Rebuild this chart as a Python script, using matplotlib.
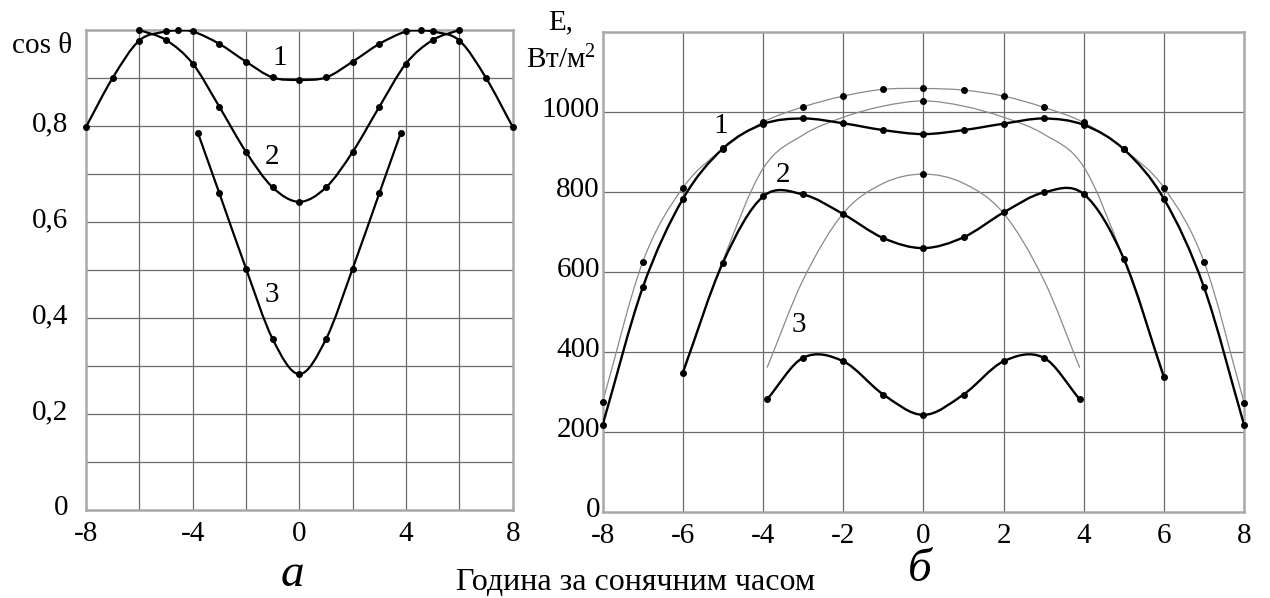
import matplotlib
matplotlib.use('Agg')
import matplotlib.pyplot as plt
import matplotlib.transforms as mtransforms
from matplotlib.path import Path
from matplotlib.patches import PathPatch
import numpy as np

plt.rcParams['font.family'] = ['Liberation Serif', 'DejaVu Serif']
plt.rcParams['mathtext.fontset'] = 'custom'
plt.rcParams['mathtext.rm'] = 'Liberation Serif'
plt.rcParams['mathtext.it'] = 'Liberation Serif:italic'

# --- panel a: cos(theta) vs solar hour ---
a1_x = [-8, -7, -6, -5, -4.56, -4, -3, -2, -1, 0, 1, 2, 3, 4, 4.56, 5, 6, 7, 8]
a1_y = [0.798, 0.90, 0.978, 0.997, 0.999, 0.997, 0.971, 0.934, 0.901, 0.896,
        0.901, 0.934, 0.971, 0.997, 0.999, 0.997, 0.978, 0.90, 0.798]
a2_x = [-6, -5, -4, -3, -2, -1, 0, 1, 2, 3, 4, 5, 6]
a2_y = [1.0, 0.979, 0.93, 0.84, 0.746, 0.672, 0.642, 0.672, 0.746, 0.84, 0.93, 0.979, 1.0]
a3_x = [-3.8, -3, -2, -1, 0, 1, 2, 3, 3.8]
a3_y = [0.785, 0.66, 0.503, 0.356, 0.283, 0.356, 0.503, 0.66, 0.785]

# --- panel b: irradiance E, W/m2 ---
b1_x = [-8, -7, -6, -5, -4, -3, -2, -1, 0, 1, 2, 3, 4, 5, 6, 7, 8]
b1_meas = [218, 561, 782, 908, 969, 983, 971, 954, 944, 954, 970, 983, 967, 906, 782, 561, 217]
b1_calc = [275, 625, 810, 907, 974, 1012, 1039, 1056, 1058, 1054, 1039, 1011, 973, 906, 810, 625, 273]
b2_x = [-6, -5, -4, -3, -2, -1, 0, 1, 2, 3, 4, 5, 6]
b2_meas = [348, 623, 788, 793, 744, 684, 659, 686, 748, 798, 794, 632, 336]
b2_calc = [352, 628, 858, 942, 986, 1014, 1027, 1014, 986, 944, 862, 630, 342]
b3_x = [-3.9, -3, -2, -1, 0, 1, 2, 3, 3.9]
b3_meas = [281, 385, 376, 293, 242, 293, 376, 385, 281]
b3_calc = [360, 580, 746, 821, 844, 821, 746, 580, 360]

a_yticks = [0, 0.2, 0.4, 0.6, 0.8]
a_ylabels = ['0', '0,2', '0,4', '0,6', '0,8']
a_xticks = [-8, -4, 0, 4, 8]
b_yticks = [0, 200, 400, 600, 800, 1000]
b_xticks = [-8, -6, -4, -2, 0, 2, 4, 6, 8]


def smooth(ax, xs, ys, **kw):
    # cubic Hermite curve through the points, drawn as a bezier path
    x = np.asarray(xs, float)
    y = np.asarray(ys, float)
    n = len(x)
    m = np.zeros(n)
    m[0] = (y[1] - y[0]) / (x[1] - x[0])
    m[-1] = (y[-1] - y[-2]) / (x[-1] - x[-2])
    for i in range(1, n - 1):
        m[i] = (y[i + 1] - y[i - 1]) / (x[i + 1] - x[i - 1])
    verts = [(x[0], y[0])]
    codes = [Path.MOVETO]
    for i in range(n - 1):
        h = x[i + 1] - x[i]
        verts += [(x[i] + h / 3, y[i] + m[i] * h / 3),
                  (x[i + 1] - h / 3, y[i + 1] - m[i + 1] * h / 3),
                  (x[i + 1], y[i + 1])]
        codes += [Path.CURVE4] * 3
    ax.add_patch(PathPatch(Path(verts, codes), fill=False, **kw))


def frame(ax):
    ax.tick_params(length=0, labelsize=21, pad=8)
    for s in ax.spines.values():
        s.set_color('#a8a8a8')
        s.set_linewidth(1.8)


fig = plt.figure(figsize=(12.7, 5.98), dpi=100)
axa = fig.add_axes([0.0677, 0.1472, 0.336, 0.8027])
axb = fig.add_axes([0.4746, 0.1443, 0.505, 0.8027])

# panel a
axa.set_xlim(-8, 8)
axa.set_ylim(0, 1.0)
for gx in range(-6, 8, 2):
    axa.axvline(gx, color='#6a6a6a', lw=0.9, zorder=1)
for gy in np.arange(1, 10) / 10:
    axa.axhline(gy, color='#6a6a6a', lw=0.9, zorder=1)
for xs, ys in [(a1_x, a1_y), (a2_x, a2_y), (a3_x, a3_y)]:
    smooth(axa, xs, ys, color='black', lw=1.6, zorder=3)
    axa.plot(xs, ys, 'o', color='black', ms=4, zorder=4, clip_on=False)
axa.set_xticks(a_xticks)
axa.set_xticklabels([str(t) for t in a_xticks])
axa.set_yticks(a_yticks)
axa.set_yticklabels(a_ylabels)
frame(axa)
axa.tick_params(axis='y', pad=13)
axa.text(-0.033, 0.967, 'cos θ', transform=axa.transAxes, ha='right', va='center', fontsize=21)
axa.text(-0.74, 0.942, '1', ha='center', va='center', fontsize=21)
axa.text(-1.03, 0.736, '2', ha='center', va='center', fontsize=21)
axa.text(-1.02, 0.448, '3', ha='center', va='center', fontsize=21)

# panel b
axb.set_xlim(-8, 8)
axb.set_ylim(0, 1200)
for gx in range(-6, 8, 2):
    axb.axvline(gx, color='#6a6a6a', lw=0.9, zorder=1)
for gy in range(200, 1200, 200):
    axb.axhline(gy, color='#6a6a6a', lw=0.9, zorder=1)
for xs, ys in [(b1_x, b1_calc), (b2_x, b2_calc), (b3_x, b3_calc)]:
    smooth(axb, xs, ys, color='#8a8a8a', lw=0.9, zorder=2)
axb.plot(b1_x, b1_calc, 'o', color='black', ms=4, zorder=4, clip_on=False)
axb.plot([0, 0], [b2_calc[6], b3_calc[4]], 'o', color='black', ms=4, zorder=4)
for xs, ys in [(b1_x, b1_meas), (b2_x, b2_meas), (b3_x, b3_meas)]:
    smooth(axb, xs, ys, color='black', lw=1.7, zorder=3)
    axb.plot(xs, ys, 'o', color='black', ms=4, zorder=4, clip_on=False)
axb.set_xticks(b_xticks)
axb.set_xticklabels([str(t) for t in b_xticks])
axb.set_yticks(b_yticks)
axb.set_yticklabels([str(t) for t in b_yticks])
frame(axb)
axb.tick_params(axis='y', pad=2)
axb.text(-5.05, 964, '1', ha='center', va='center', fontsize=21)
axb.text(-3.5, 842, '2', ha='center', va='center', fontsize=21)
axb.text(-3.1, 467, '3', ha='center', va='center', fontsize=21)

# shift y tick labels slightly upward as in the original
up = mtransforms.ScaledTranslation(0, 5 / 100, fig.dpi_scale_trans)
for ax in (axa, axb):
    for lbl in ax.get_yticklabels():
        lbl.set_transform(lbl.get_transform() + up)

fig.text(561 / 1270, 1 - 22 / 598, 'E,', ha='center', va='center', fontsize=21)
fig.text(561 / 1270, 1 - 60 / 598, r'Вт/м$^{2}$', ha='center', va='center', fontsize=21)
fig.text(292 / 1270, 1 - 575 / 598, 'а', ha='center', va='center', fontsize=34, style='italic')
fig.text(920 / 1270, 1 - 570 / 598, 'б', ha='center', va='center', fontsize=34, style='italic')
fig.text(636 / 1270, 1 - 582 / 598, 'Година за сонячним часом', ha='center', va='center', fontsize=23)

fig.savefig('out.png', dpi=100)
